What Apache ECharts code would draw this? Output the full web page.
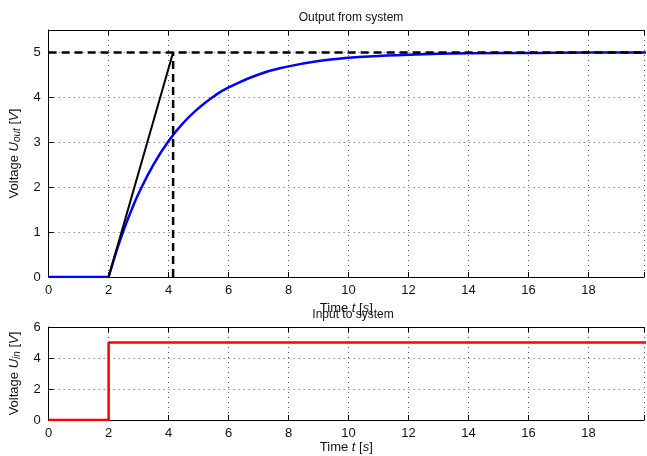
<!DOCTYPE html>
<html>
<head>
    <meta charset="utf-8">
    <title>Step response</title>
    <script src="https://cdn.jsdelivr.net/npm/echarts@6/dist/echarts.min.js"></script>
    <style type="text/css">
        html, body { margin: 0; padding: 0; background: #fff; }
        #main { width: 647px; height: 456px; }
    </style>
</head>
<body>
<div id="main"></div>
<script type="text/javascript">
    // output of the system: flat before the step, then the rise
    var outFlatTime = [0, 2];
    var outFlatVolt = [0, 0];
    var outRiseTime = [2, 2.25, 2.5, 2.75, 3, 3.5, 4, 4.5, 5, 5.5, 6, 7, 8, 9, 10, 11, 12, 14, 16, 18, 20];
    var outRiseVolt = [0, 0.55, 1.04, 1.47, 1.86, 2.51, 3.03, 3.44, 3.76, 4.02, 4.22, 4.51, 4.69, 4.81, 4.88, 4.92, 4.95, 4.98, 4.99, 5.0, 5.0];
    // tangent at the step and the time constant markers
    var tangentTime = [2, 4.15];
    var tangentVolt = [0, 5];
    var finalTime = [0, 20];
    var finalVolt = [5, 5];
    var tauTime = [4.15, 4.15];
    var tauVolt = [0, 5];
    // input step
    var inTime = [0, 2, 2, 20];
    var inVolt = [0, 0, 5, 5];

    function pairs(xs, ys) {
        return xs.map(function (x, i) { return [x, ys[i]]; });
    }

    var font = 'Liberation Sans, Arial, sans-serif';
    var dotted = {show: true, lineStyle: {color: '#555', type: [1, 4], width: 1}};
    var rich = {
        i: {fontStyle: 'italic', fontSize: 13, fontFamily: font, color: '#111'},
        sub: {fontStyle: 'italic', fontSize: 10, fontFamily: font, color: '#111', padding: [6, 0, 0, 0]}
    };

    function intLabel(v) {
        return Math.abs(v - Math.round(v)) < 1e-6 ? String(Math.round(v)) : '';
    }

    function bottomX(idx, gap) {
        return {
            type: 'value', gridIndex: idx, min: 0, max: 19.85, interval: 2,
            axisLine: {show: true, onZero: false, lineStyle: {color: '#000', width: 1}},
            axisTick: {show: true, inside: true, length: 5, lineStyle: {color: '#000'}},
            axisLabel: {color: '#111', fontSize: 13, fontFamily: font, margin: 7, formatter: intLabel},
            splitLine: dotted,
            name: 'Time {i|t} [{i|s}]', nameLocation: 'middle', nameGap: gap,
            nameTextStyle: {color: '#111', fontSize: 13, fontFamily: font, rich: rich}
        };
    }
    function topX(idx) {
        return {
            type: 'value', gridIndex: idx, position: 'top', min: 0, max: 19.85, interval: 2,
            axisLine: {show: true, onZero: false, lineStyle: {color: '#000', width: 1}},
            axisTick: {show: true, inside: true, length: 5, lineStyle: {color: '#000'}},
            axisLabel: {show: false}, splitLine: {show: false}
        };
    }

    var chart = echarts.init(document.getElementById('main'));
    chart.setOption({
        animation: false,
        title: [
            {text: 'Output from system', left: 346, top: 7, textAlign: 'center',
                textStyle: {fontSize: 12, fontWeight: 'normal', color: '#111', fontFamily: font}},
            {text: 'Input to system', left: 348, top: 304, textAlign: 'center',
                textStyle: {fontSize: 12, fontWeight: 'normal', color: '#111', fontFamily: font}}
        ],
        grid: [
            {left: 46, top: 30, width: 601, height: 247},
            {left: 46, top: 327, width: 601, height: 93}
        ],
        xAxis: [bottomX(0, 18), topX(0), bottomX(1, 21), topX(1)],
        yAxis: [
            {
                type: 'value', gridIndex: 0, min: 0, max: 5.5, interval: 1,
                axisLine: {show: true, lineStyle: {color: '#000', width: 1}},
                axisTick: {show: true, inside: true, length: 5, lineStyle: {color: '#000'}},
                axisLabel: {color: '#111', fontSize: 13, fontFamily: font, margin: 8, formatter: intLabel},
                splitLine: dotted,
                name: 'Voltage {i|U}{sub|out} [{i|V}]', nameLocation: 'middle', nameGap: 26, nameRotate: 90,
                nameTextStyle: {color: '#111', fontSize: 13, fontFamily: font, rich: rich}
            },
            {
                type: 'value', gridIndex: 1, min: 0, max: 6, interval: 2,
                axisLine: {show: true, lineStyle: {color: '#000', width: 1}},
                axisTick: {show: true, inside: true, length: 5, lineStyle: {color: '#000'}},
                axisLabel: {color: '#111', fontSize: 13, fontFamily: font, margin: 8},
                splitLine: dotted,
                name: 'Voltage {i|U}{sub|in} [{i|V}]', nameLocation: 'middle', nameGap: 26, nameRotate: 90,
                nameTextStyle: {color: '#111', fontSize: 13, fontFamily: font, rich: rich}
            }
        ],
        series: [
            {
                type: 'line', xAxisIndex: 0, yAxisIndex: 0, data: pairs(outFlatTime, outFlatVolt),
                symbol: 'none', lineStyle: {color: '#0000ff', width: 2.5}, z: 2
            },
            {
                type: 'line', xAxisIndex: 0, yAxisIndex: 0, data: pairs(outRiseTime, outRiseVolt),
                smooth: 0.5, symbol: 'none', lineStyle: {color: '#0000ff', width: 2.5}, z: 2
            },
            {
                type: 'line', xAxisIndex: 0, yAxisIndex: 0, data: pairs(tangentTime, tangentVolt),
                symbol: 'none', lineStyle: {color: '#000', width: 2}, z: 3
            },
            {
                type: 'line', xAxisIndex: 0, yAxisIndex: 0, data: pairs(finalTime, finalVolt),
                symbol: 'none', lineStyle: {color: '#000', width: 2.5, type: [8, 5]}, z: 4
            },
            {
                type: 'line', xAxisIndex: 0, yAxisIndex: 0, data: pairs(tauTime, tauVolt),
                symbol: 'none', lineStyle: {color: '#000', width: 2.5, type: [8, 5]}, z: 4
            },
            {
                type: 'line', xAxisIndex: 2, yAxisIndex: 1, data: pairs(inTime, inVolt),
                symbol: 'none', lineStyle: {color: '#ff0000', width: 2.5}, z: 3
            }
        ]
    });
</script>
</body>
</html>
